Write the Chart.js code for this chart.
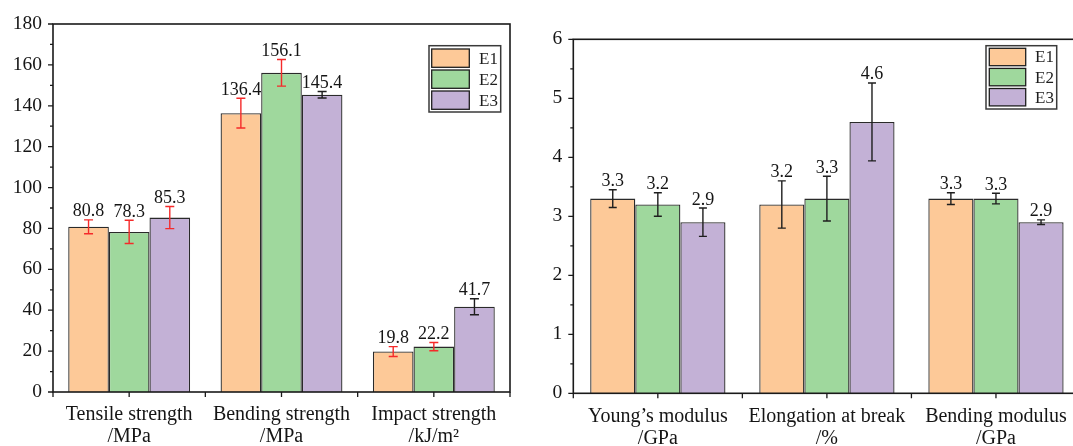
<!DOCTYPE html>
<html><head><meta charset="utf-8">
<script src="https://cdn.jsdelivr.net/npm/chart.js@4.4.1/dist/chart.umd.min.js"></script>
<style>
html,body{margin:0;padding:0;background:#fff;overflow:hidden;width:1073px;height:446px;position:relative;}
#c1{position:absolute;left:0;top:0;}
#c2{position:absolute;left:540px;top:0;}
</style></head><body>
<canvas id="c1" width="540" height="446" style="width:540px;height:446px"></canvas>
<canvas id="c2" width="545" height="446" style="width:545px;height:446px"></canvas>
<script>
// ---------- data ----------
const seriesNames = ['E1', 'E2', 'E3'];

const leftCategories = [['Tensile strength', '/MPa'], ['Bending strength', '/MPa'], ['Impact strength', '/kJ/m²']];
const leftE1 = [80.8, 136.4, 19.8];
const leftE2 = [78.3, 156.1, 22.2];
const leftE3 = [85.3, 145.4, 41.7];
const leftErrE1 = [3.4, 7.3, 2.4];
const leftErrE2 = [5.7, 6.5, 2.0];
const leftErrE3 = [5.4, 1.6, 3.9];
const leftYTicks = [0, 20, 40, 60, 80, 100, 120, 140, 160, 180];

const rightCategories = [['Young\u2019s modulus', '/GPa'], ['Elongation at break', '/%'], ['Bending modulus', '/GPa']];
const rightE1 = [3.3, 3.2, 3.3];
const rightE2 = [3.2, 3.3, 3.3];
const rightE3 = [2.9, 4.6, 2.9];
const rightErrE1 = [0.15, 0.40, 0.10];
const rightErrE2 = [0.20, 0.38, 0.09];
const rightErrE3 = [0.24, 0.66, 0.04];
const rightYTicks = [0, 1, 2, 3, 4, 5, 6];

// ---------- styles ----------
const FONT = "'Liberation Serif', 'Times New Roman', serif";
const fillColors = ['#FDC998', '#9FD89D', '#C3B1D6'];
const RED = '#F52A2A', BLACK = '#1e1e1e';

const decor = {
  id: 'decor',
  afterDatasetsDraw(chart, args, o) {
    const ctx = chart.ctx;
    const ys = chart.scales.y;
    chart.data.datasets.forEach((ds, di) => {
      const meta = chart.getDatasetMeta(di);
      meta.data.forEach((bar, i) => {
        const v = ds.data[i], e = ds.errors[i];
        const yt = ys.getPixelForValue(v + e), yb = ys.getPixelForValue(v - e);
        const cx = bar.x, h = o.cap / 2;
        ctx.save();
        ctx.strokeStyle = ds.errorColors[i];
        ctx.lineWidth = o.errWidth;
        ctx.beginPath();
        ctx.moveTo(cx, yt); ctx.lineTo(cx, yb);
        ctx.moveTo(cx - h, yt); ctx.lineTo(cx + h, yt);
        ctx.moveTo(cx - h, yb); ctx.lineTo(cx + h, yb);
        ctx.stroke();
        ctx.fillStyle = '#151515';
        ctx.font = o.labelFont;
        ctx.textAlign = 'center';
        ctx.textBaseline = 'alphabetic';
        ctx.fillText(v.toFixed(1), cx, yt - o.labelGap);
        ctx.restore();
      });
    });
  },
  afterDraw(chart, args, o) {
    const ctx = chart.ctx, ca = chart.chartArea;
    const xs = chart.scales.x, ys = chart.scales.y;
    ctx.save();
    ctx.strokeStyle = '#1a1a1a';
    ctx.lineWidth = 1.6;
    ctx.strokeRect(ca.left, ca.top, ca.right - ca.left, ca.bottom - ca.top);
    ctx.lineWidth = 1.3;
    ctx.beginPath();
    const tv = ys.ticks.map(t => t.value);
    tv.forEach((v, k) => {
      const p = ys.getPixelForValue(v);
      ctx.moveTo(ca.left, p); ctx.lineTo(ca.left - 5, p);
      if (k < tv.length - 1) {
        const pm = ys.getPixelForValue((v + tv[k + 1]) / 2);
        ctx.moveTo(ca.left, pm); ctx.lineTo(ca.left - 3, pm);
      }
    });
    const n = chart.data.labels.length;
    for (let i = 0; i < n; i++) {
      const c = xs.getPixelForValue(i);
      ctx.moveTo(c, ca.bottom); ctx.lineTo(c, ca.bottom + 5);
      if (i < n - 1) {
        const b = (c + xs.getPixelForValue(i + 1)) / 2;
        ctx.moveTo(b, ca.bottom); ctx.lineTo(b, ca.bottom + 5);
      }
    }
    ctx.moveTo(ca.left, ca.bottom); ctx.lineTo(ca.left, ca.bottom + 5);
    ctx.moveTo(ca.right, ca.bottom); ctx.lineTo(ca.right, ca.bottom + 5);
    ctx.stroke();

    const L = o.legend;
    ctx.fillStyle = '#fff';
    ctx.fillRect(L.x, L.y, L.w, L.h);
    ctx.strokeStyle = '#3a3a3a';
    ctx.lineWidth = 1.5;
    ctx.strokeRect(L.x, L.y, L.w, L.h);
    chart.data.datasets.forEach((ds, di) => {
      const ty = L.rowTop + di * L.pitch;
      ctx.fillStyle = ds.backgroundColor;
      ctx.fillRect(L.sx, ty, L.sw, L.sh);
      ctx.strokeStyle = '#1e1e1e';
      ctx.lineWidth = 1.3;
      ctx.strokeRect(L.sx, ty, L.sw, L.sh);
      ctx.fillStyle = '#1e1e1e';
      ctx.font = L.font;
      ctx.textAlign = 'left';
      ctx.textBaseline = 'middle';
      ctx.fillText(ds.label, L.tx, ty + L.sh / 2 + 1);
    });
    ctx.restore();
  }
};

function makeDatasets(vals, errs, errColors) {
  return seriesNames.map((name, k) => ({
    label: name,
    data: vals[k],
    errors: errs[k],
    errorColors: errColors[k],
    backgroundColor: fillColors[k],
    borderColor: '#2a2a2a',
    borderWidth: 1.3,
    categoryPercentage: 0.8,
    barPercentage: 1.0
  }));
}

function makeOptions(cfg) {
  return {
    responsive: false,
    animation: false,
    devicePixelRatio: 1,
    layout: { padding: { left: 0, right: cfg.padRight, top: cfg.padTop, bottom: 0 } },
    plugins: {
      legend: { display: false },
      tooltip: { enabled: false },
      decor: { cap: cfg.cap, errWidth: 1.4, labelFont: '18px ' + FONT, labelGap: 3.5, legend: cfg.legend }
    },
    scales: {
      x: {
        type: 'category', offset: true,
        grid: { display: false, drawTicks: false },
        border: { display: false },
        ticks: { font: { family: FONT, size: 20, lineHeight: 1.1 }, color: '#151515', padding: 12, maxRotation: 0, autoSkip: false },
        afterFit(s) { s.height = cfg.xHeight; }
      },
      y: {
        min: cfg.yTicks[0], max: cfg.yTicks[cfg.yTicks.length - 1],
        grid: { display: false, drawTicks: false },
        border: { display: false },
        afterBuildTicks(s) { s.ticks = cfg.yTicks.map(v => ({ value: v })); },
        ticks: { font: { family: FONT, size: 19.5 }, color: '#151515', padding: 11, callback: v => String(v) },
        afterFit(s) { s.width = cfg.yWidth; }
      }
    }
  };
}

new Chart(document.getElementById('c1'), {
  type: 'bar',
  data: {
    labels: leftCategories,
    datasets: makeDatasets([leftE1, leftE2, leftE3], [leftErrE1, leftErrE2, leftErrE3],
      [[RED, RED, RED], [RED, RED, RED], [RED, BLACK, BLACK]])
  },
  options: makeOptions({
    padRight: 30, padTop: 24, xHeight: 54, yWidth: 53, cap: 9, yTicks: leftYTicks,
    legend: { x: 429, y: 45.7, w: 71.7, h: 66.3, sx: 431.7, sw: 37.6, sh: 18.3, rowTop: 49, pitch: 21, tx: 479, font: '17px ' + FONT }
  }),
  plugins: [decor]
});

new Chart(document.getElementById('c2'), {
  type: 'bar',
  data: {
    labels: rightCategories,
    datasets: makeDatasets([rightE1, rightE2, rightE3], [rightErrE1, rightErrE2, rightErrE3],
      [[BLACK, BLACK, BLACK], [BLACK, BLACK, BLACK], [BLACK, BLACK, BLACK]])
  },
  options: makeOptions({
    padRight: 4.5, padTop: 39.3, xHeight: 52.7, yWidth: 33.3, cap: 8, yTicks: rightYTicks,
    legend: { x: 446, y: 45.7, w: 70.7, h: 63.3, sx: 449.3, sw: 36.4, sh: 17.4, rowTop: 48.3, pitch: 20.1, tx: 495, font: '17px ' + FONT }
  }),
  plugins: [decor]
});
</script>
</body></html>
